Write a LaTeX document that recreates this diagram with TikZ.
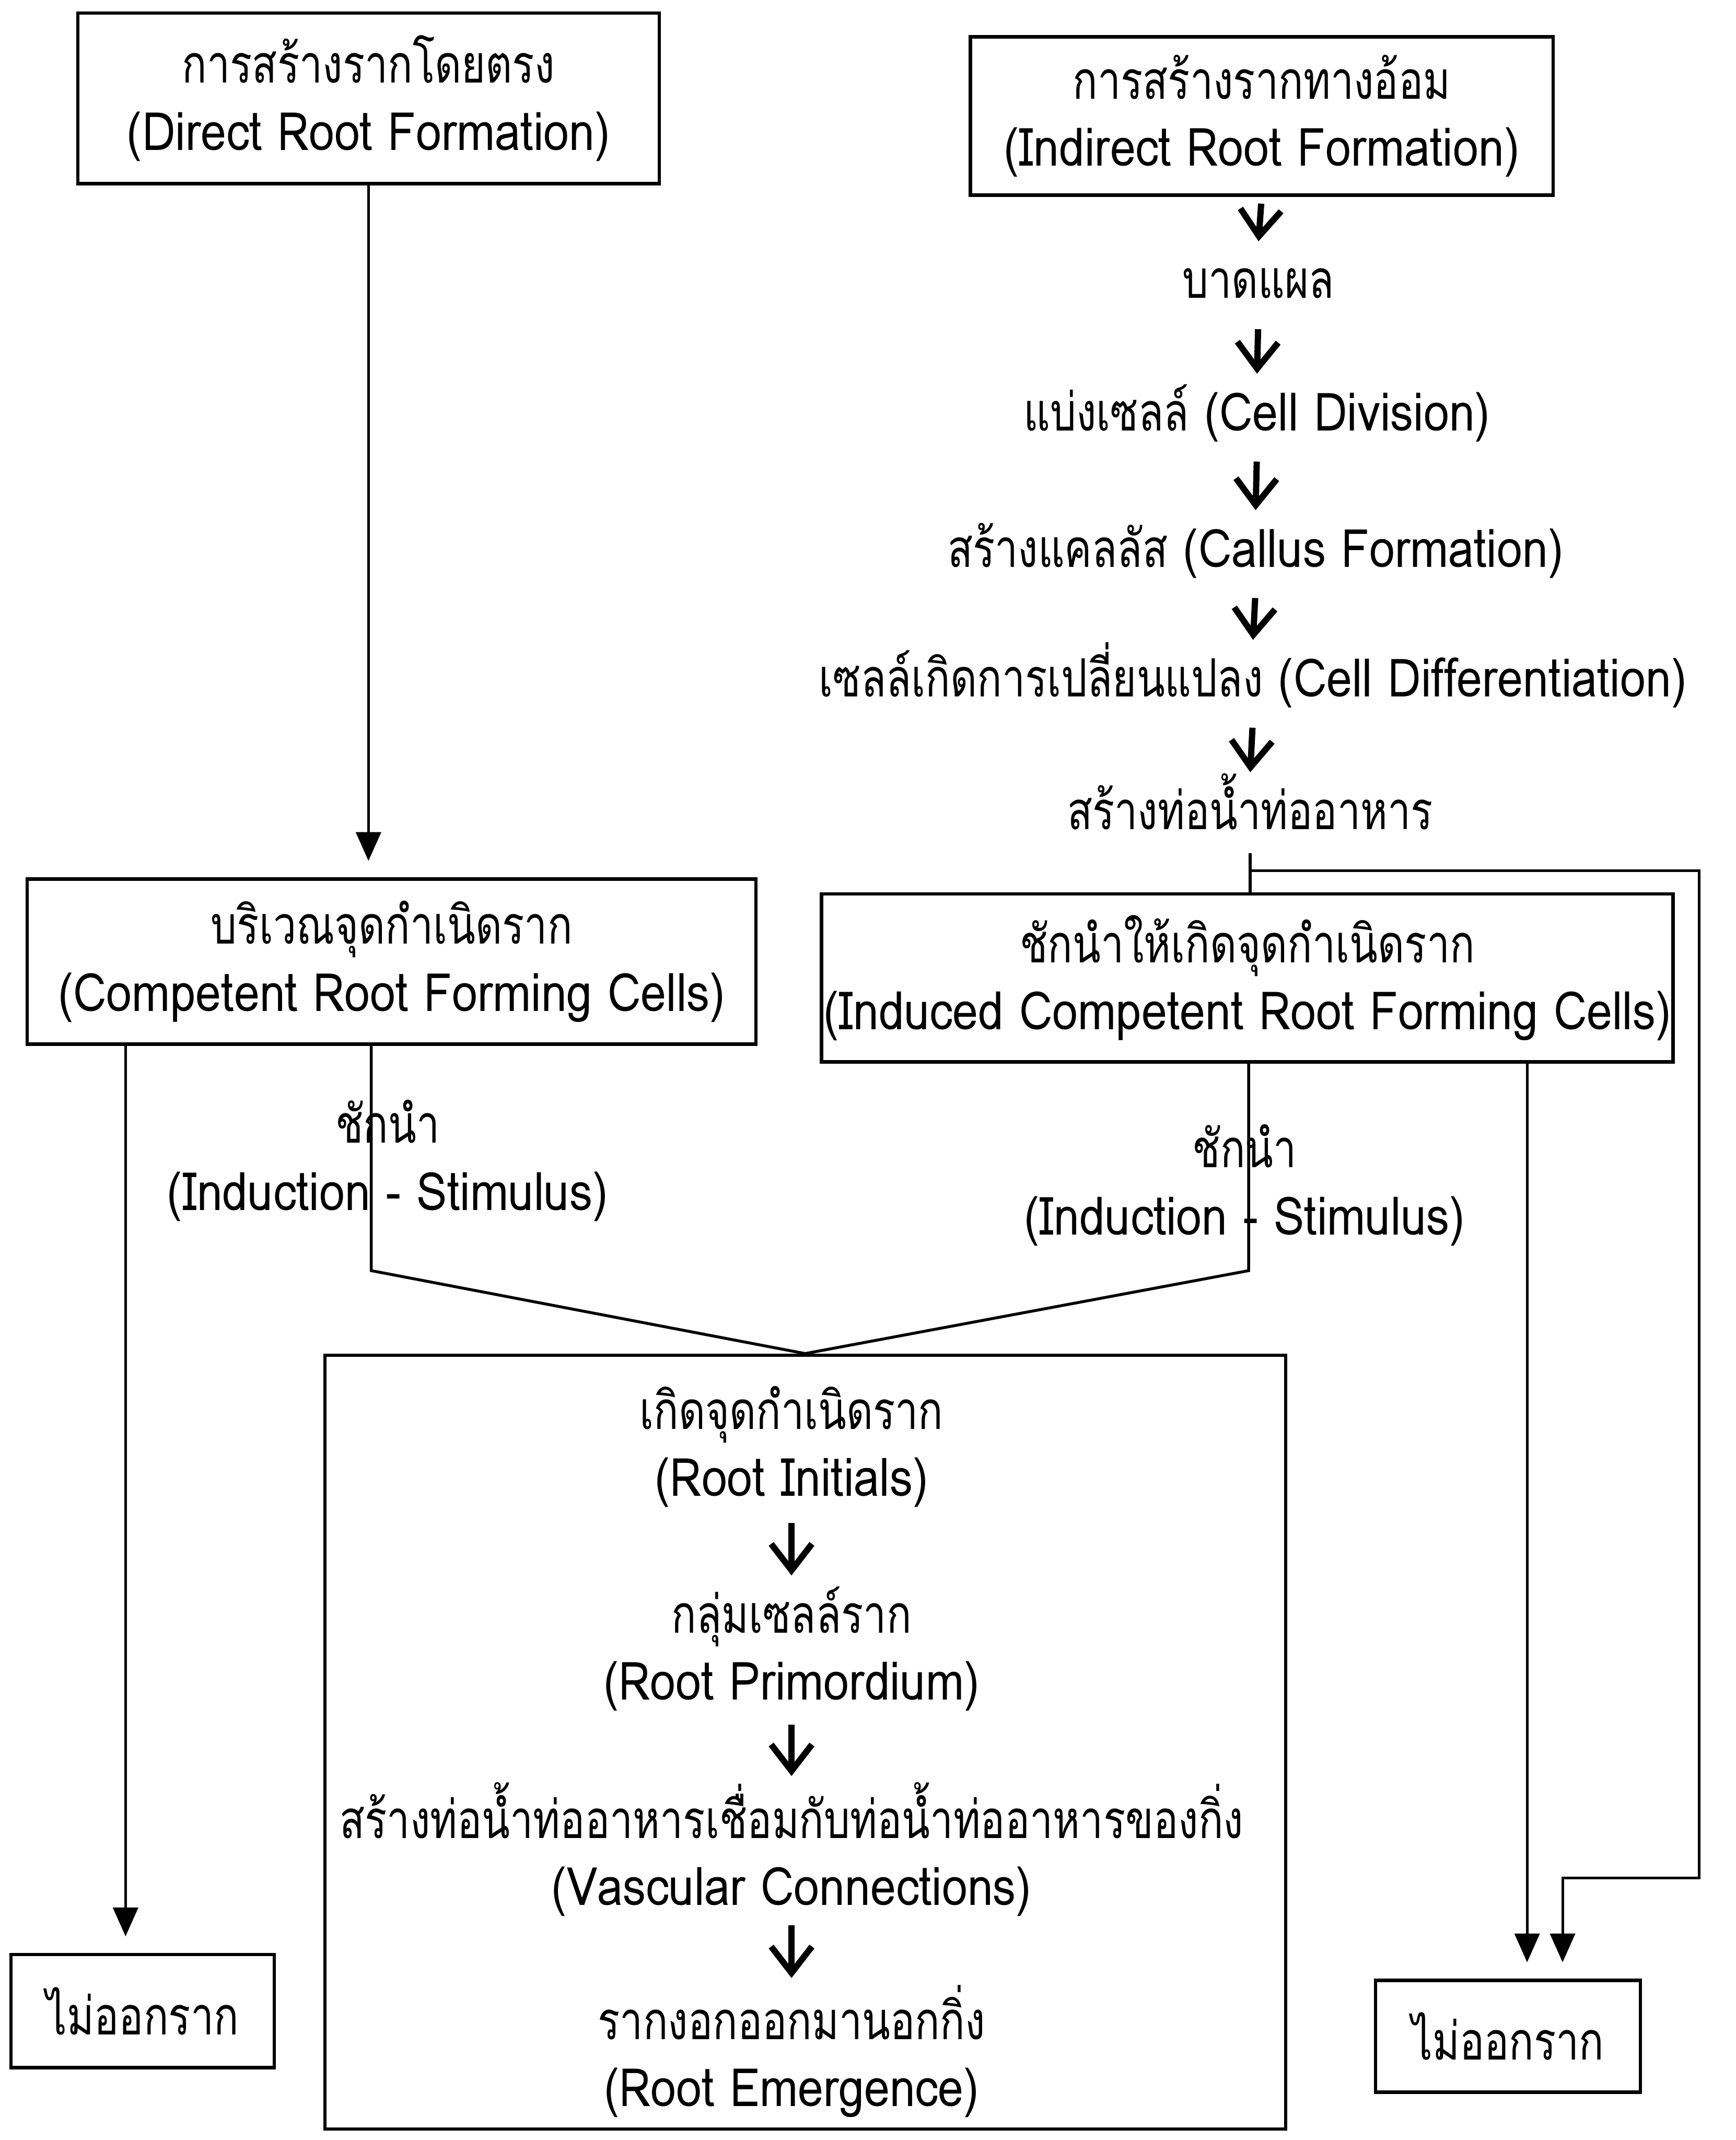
\documentclass[tikz,border=0pt]{standalone}
\usepackage{fontspec}
\setmainfont{Loma}[Script=Thai, FakeStretch=0.87]
\newfontfamily\thfont{Loma}[Script=Thai, FakeStretch=0.78]
\newcommand\tht[1]{{\thfont #1}}
\usetikzlibrary{arrows.meta,positioning}

\tikzset{
  box/.style={draw, line width=0.7pt, inner sep=0pt, align=center},
  lbl/.style={inner sep=0pt, align=center, text height=9pt, text depth=3pt, minimum height=0.55cm},
  pair/.style={inner sep=0pt, align=center, minimum height=1.0cm},
  thk/.style={line width=1.3pt, -{Straight Barb[length=5.5pt,width=8.5pt]},
    shorten <=0.05cm, shorten >=0.03cm},
  arr/.style={line width=0.55pt, -{Triangle[length=6pt,width=5.2pt]}, shorten >=0.12cm},
  ln/.style={line width=0.6pt}
}

\begin{document}
\begin{tikzpicture}[font=\fontsize{11pt}{14pt}\selectfont]
\useasboundingbox (0,0) rectangle (12.72,-15.68);

% top boxes
\node[box, minimum width=4.26cm, minimum height=1.25cm] (direct) at (2.70,-0.72)
  {\tht{การสร้างรากโดยตรง}\\(Direct Root Formation)};
\node[box, minimum width=4.27cm, minimum height=1.16cm] (indirect) at (9.245,-0.85)
  {\tht{การสร้างรากทางอ้อม}\\(Indirect Root Formation)};

% indirect chain
\node[lbl] (wound) at (9.22,-2.08) {\tht{บาดแผล}};
\node[lbl] (division) at (9.21,-3.05) {\tht{แบ่งเซลล์} (Cell Division)};
\node[lbl] (callus) at (9.20,-4.05) {\tht{สร้างแคลลัส} (Callus Formation)};
\node[lbl] (differ) at (9.18,-5.00) {\tht{เซลล์เกิดการเปลี่ยนแปลง} (Cell Differentiation)};
\node[lbl] (vasc) at (9.16,-5.97) {\tht{สร้างท่อน้ำท่ออาหาร}};

% middle boxes
\node[box, minimum width=5.34cm, minimum height=1.21cm] (competent) at (2.87,-7.045)
  {\tht{บริเวณจุดกำเนิดราก}\\(Competent Root Forming Cells)};
\node[box, minimum width=6.24cm, minimum height=1.23cm] (induced) at (9.14,-7.165)
  {\tht{ชักนำให้เกิดจุดกำเนิดราก}\\(Induced Competent Root Forming Cells)};

\node[align=center, inner sep=0pt] (stimL) at (2.84,-8.505) {\tht{ชักนำ}\\(Induction - Stimulus)};
\node[align=center, inner sep=0pt] (stimR) at (9.12,-8.685) {\tht{ชักนำ}\\(Induction - Stimulus)};

% big box
\node[box, minimum width=7.04cm, minimum height=5.67cm] (rootbox) at (5.90,-12.765) {};
\node[pair] (initials) at (5.80,-10.60) {\tht{เกิดจุดกำเนิดราก}\\(Root Initials)};
\node[pair] (primord) at (5.80,-12.08) {\tht{กลุ่มเซลล์ราก}\\(Root Primordium)};
\node[pair] (vconn) at (5.80,-13.55) {\tht{สร้างท่อน้ำท่ออาหารเชื่อมกับท่อน้ำท่ออาหารของกิ่ง}\\(Vascular Connections)};
\node[pair] (emerge) at (5.80,-15.03) {\tht{รากงอกออกมานอกกิ่ง}\\(Root Emergence)};

% no root
\node[box, minimum width=1.93cm, minimum height=0.83cm] (noL) at (1.045,-14.735) {\tht{ไม่ออกราก}};
\node[box, minimum width=1.94cm, minimum height=0.82cm] (noR) at (11.05,-14.92) {\tht{ไม่ออกราก}};

\coordinate (lx) at (0.92,0);
\coordinate (lk) at (2.72,-9.31);
\coordinate (rk) at (9.15,-9.31);
\coordinate (rx) at (11.19,0);
\coordinate (br) at (9.16,-6.38);
\coordinate (rtop) at (12.45,-6.38);
\coordinate (rbot) at (12.45,-13.76);
\coordinate (rdrop) at (11.45,-13.76);

\foreach \from/\to in {indirect/wound, wound/division, division/callus, callus/differ, differ/vasc,
  initials/primord, primord/vconn, vconn/emerge}
  \draw[thk] (\from.south) -- (\to.north);

\draw[arr] (direct.south) -- (direct.south |- competent.north);
\draw[ln] (vasc.south) -- (vasc.south |- induced.north);
\draw[arr] (br) -- (rtop) -- (rbot) -- (rdrop) -- (rdrop |- noR.north);
\draw[arr] (competent.south -| lx) -- (noL.north -| lx);
\draw[arr] (induced.south -| rx) -- (noR.north -| rx);
\draw[ln] (competent.south -| lk) -- (lk) -- (rootbox.north);
\draw[ln] (induced.south -| rk) -- (rk) -- (rootbox.north);

\end{tikzpicture}
\end{document}
